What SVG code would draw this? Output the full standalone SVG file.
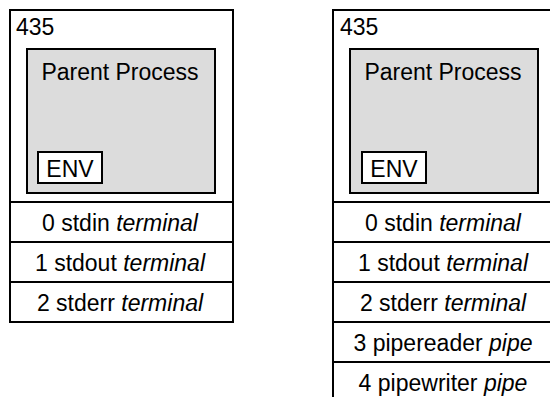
<svg xmlns="http://www.w3.org/2000/svg" width="550" height="397" viewBox="0 0 550 397">
  <style>
    .frame { fill: #ffffff; stroke: #000000; stroke-width: 2; }
    .proc { fill: #dcdcdc; stroke: #000000; stroke-width: 2; }
    .env { fill: #ffffff; stroke: #000000; stroke-width: 2; }
    .sep { stroke: #000000; stroke-width: 2; }
    text { font-family: "Liberation Sans", Arial, Helvetica, sans-serif; font-size: 23px; fill: #000000; }
    .mid { text-anchor: middle; }
    .it { font-style: italic; }
  </style>
  <rect width="550" height="397" fill="#ffffff"/>

  <!-- process 435 before the pipe call -->
  <g id="process-before">
    <rect class="frame" x="10" y="10" width="223" height="312"/>
    <text x="16" y="35">435</text>
    <rect class="proc" x="27" y="49" width="188" height="144"/>
    <text class="mid" x="120" y="80">Parent Process</text>
    <g id="env-before">
      <rect class="env" x="38" y="152" width="64" height="31"/>
      <text class="mid" x="70" y="177">ENV</text>
    </g>
    <g id="fd-table-before">
      <line class="sep" x1="10" y1="202" x2="233" y2="202"/>
      <line class="sep" x1="10" y1="242" x2="233" y2="242"/>
      <line class="sep" x1="10" y1="282" x2="233" y2="282"/>
      <text class="mid" x="120" y="231">0 stdin <tspan class="it">terminal</tspan></text>
      <text class="mid" x="120" y="271">1 stdout <tspan class="it">terminal</tspan></text>
      <text class="mid" x="120" y="311">2 stderr <tspan class="it">terminal</tspan></text>
    </g>
  </g>

  <!-- process 435 after the pipe call -->
  <g id="process-after">
    <rect class="frame" x="333" y="10" width="223" height="432"/>
    <text x="340" y="35">435</text>
    <rect class="proc" x="350" y="49" width="188" height="144"/>
    <text class="mid" x="443" y="80">Parent Process</text>
    <g id="env-after">
      <rect class="env" x="362" y="152" width="64" height="31"/>
      <text class="mid" x="394" y="177">ENV</text>
    </g>
    <g id="fd-table-after">
      <line class="sep" x1="333" y1="202" x2="556" y2="202"/>
      <line class="sep" x1="333" y1="242" x2="556" y2="242"/>
      <line class="sep" x1="333" y1="282" x2="556" y2="282"/>
      <line class="sep" x1="333" y1="322" x2="556" y2="322"/>
      <line class="sep" x1="333" y1="362" x2="556" y2="362"/>
      <text class="mid" x="443" y="231">0 stdin <tspan class="it">terminal</tspan></text>
      <text class="mid" x="443" y="271">1 stdout <tspan class="it">terminal</tspan></text>
      <text class="mid" x="443" y="311">2 stderr <tspan class="it">terminal</tspan></text>
      <text class="mid" x="443" y="351">3 pipereader <tspan class="it">pipe</tspan></text>
      <text class="mid" x="443" y="391">4 pipewriter <tspan class="it">pipe</tspan></text>
    </g>
  </g>

  <!-- no connectors in this figure -->
  <g id="connectors"/>
</svg>
